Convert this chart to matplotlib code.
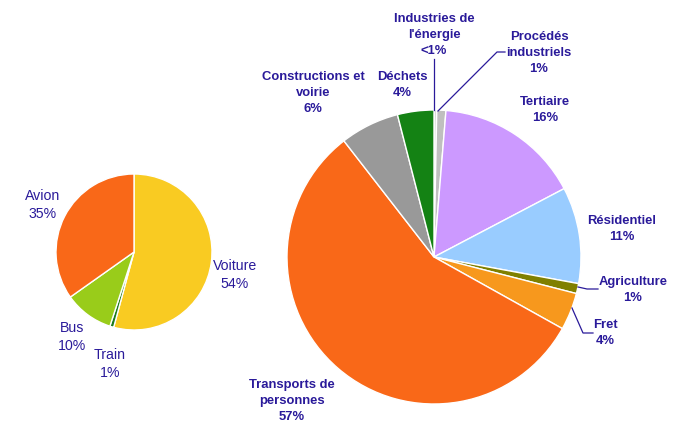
import matplotlib
matplotlib.use("Agg")
import matplotlib.pyplot as plt

# ---- data ----
small_labels = ["Voiture", "Train", "Bus", "Avion"]
small_values = [54.2, 0.8, 10.2, 34.8]
small_pct = ["54%", "1%", "10%", "35%"]
small_colors = ["#F9CB22", "#1E7B1E", "#99CC1A", "#F96818"]

big_labels = ["Industries de\nl'énergie", "Procédés\nindustriels", "Tertiaire",
              "Résidentiel", "Agriculture", "Fret", "Transports de\npersonnes",
              "Constructions et\nvoirie", "Déchets"]
big_values = [0.3, 1.0, 16.0, 10.6, 1.1, 4.1, 56.4, 6.5, 4.0]
big_pct = ["<1%", "1%", "16%", "11%", "1%", "4%", "57%", "6%", "4%"]
big_colors = ["#D9D9D9", "#BFBFBF", "#CC99FF", "#99CCFF", "#808000",
              "#F7981D", "#F96818", "#999999", "#148214"]

W, H = 682, 425
TXT = "#2A1A9A"
plt.rcParams['font.family'] = ['Liberation Sans', 'DejaVu Sans']

fig = plt.figure(figsize=(W / 100, H / 100), dpi=100)
ax = fig.add_axes([0, 0, 1, 1])

def Y(y):
    return H - y

# small pie
ax.pie(small_values, colors=small_colors, startangle=90, counterclock=False,
       center=(134, Y(252)), radius=78,
       wedgeprops=dict(edgecolor='white', linewidth=1.0))
# big pie
ax.pie(big_values, colors=big_colors, startangle=90, counterclock=False,
       center=(434, Y(257)), radius=147,
       wedgeprops=dict(edgecolor='white', linewidth=1.0))

ax.set_xlim(0, W)
ax.set_ylim(0, H)
ax.set_aspect('equal')
ax.axis('off')

small_pos = {"Voiture": (235, 275), "Train": (110, 364), "Bus": (72, 337), "Avion": (43, 205)}
for lab, pct in zip(small_labels, small_pct):
    x, y = small_pos[lab]
    ax.text(x, Y(y), f"{lab}\n{pct}", ha='center', va='center', color=TXT,
            fontsize=10.2, linespacing=1.39)

big_pos = [(434, 35), (539, 53), (545, 110), (622, 229), (633, 290),
           (605, 333), (292, 401), (313, 93), (402, 85)]
for lab, pct, (x, y) in zip(big_labels, big_pct, big_pos):
    ax.text(x, Y(y), f"{lab}\n{pct}", ha='center', va='center', color=TXT,
            fontsize=9.4, fontweight='bold', linespacing=1.44)

# leader lines
leaders = [
    [(434, 59), (434, 110)],
    [(438, 111), (497, 52), (505, 52)],
    [(578, 287), (587, 289), (598, 289)],
    [(572, 308), (583, 333), (593, 333)],
]
for pts in leaders:
    xs = [p[0] for p in pts]
    ys = [Y(p[1]) for p in pts]
    ax.plot(xs, ys, color=TXT, lw=0.9)

fig.savefig("out.png", dpi=100)
